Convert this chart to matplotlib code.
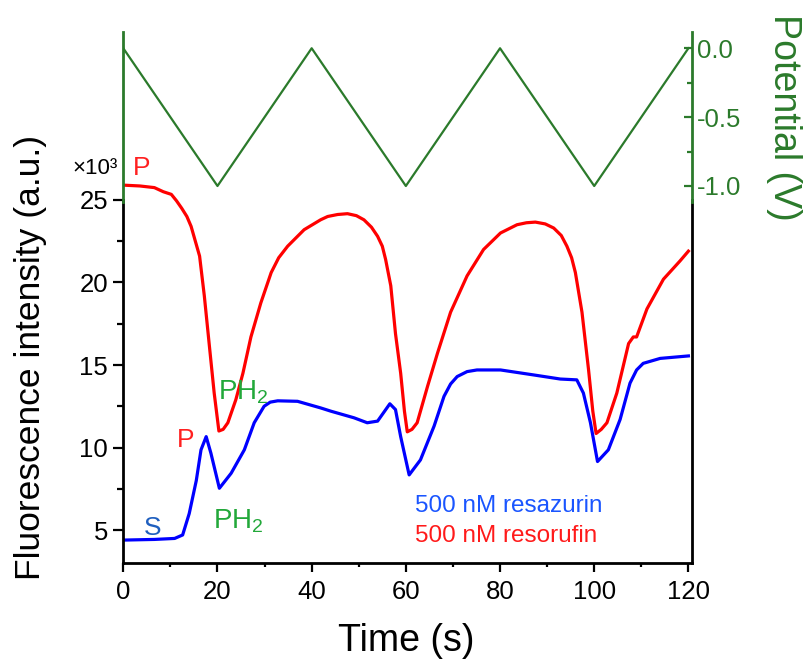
import numpy as np
import matplotlib
matplotlib.use('Agg')
import matplotlib.pyplot as plt
from matplotlib.ticker import MultipleLocator

plt.rcParams['font.family'] = ['Liberation Sans', 'DejaVu Sans']
plt.rcParams['mathtext.default'] = 'regular'

# potential sweep (V)
pot_t = [0, 20, 40, 60, 80, 100, 120]
pot_v = [0.0, -1.0, 0.0, -1.0, 0.0, -1.0, 0.0]

# 500 nM resorufin, fluorescence x10^3
res_t = [0.0, 3.5, 6.6, 8.5, 10.2, 11.3, 12.4, 13.5, 14.4, 15.2, 16.2, 17.2, 18.3, 19.3, 20.3,
         21.2, 22.2, 23.9, 25.4, 27.1, 29.2, 31.4, 33.0, 34.9, 38.4, 41.9, 43.4,
         45.5, 47.6, 49.5, 51.1, 52.7, 54.0, 55.0, 55.7, 56.8, 57.8, 58.9, 59.7, 60.3,
         61.3, 62.4, 64.6, 66.7, 69.5, 73.0, 76.5, 80.1, 83.6, 85.6, 87.5, 89.6, 91.4, 93.0,
         94.2, 95.2, 96.0, 97.4, 98.8, 99.7, 100.4, 101.5, 102.7, 104.8, 107.3, 108.3, 109.0,
         111.2, 114.7, 118.2, 120.0]
res_f = [25.9, 25.85, 25.75, 25.5, 25.34, 24.95, 24.5, 24.0, 23.4, 22.6, 21.6, 19.2, 16.1, 13.3, 11.0,
         11.1, 11.5, 12.9, 14.5, 16.7, 18.76, 20.6, 21.5, 22.2, 23.2, 23.8, 24.0,
         24.12, 24.17, 24.05, 23.8, 23.35, 22.8, 22.2, 21.4, 19.8, 16.9, 14.5, 12.2, 10.95,
         11.1, 11.5, 13.7, 15.7, 18.2, 20.4, 22.0, 23.0, 23.5, 23.62, 23.66, 23.55, 23.3, 22.85,
         22.2, 21.5, 20.6, 18.2, 14.7, 12.2, 10.85, 11.1, 11.5, 13.3, 16.3, 16.7, 16.7,
         18.4, 20.2, 21.3, 21.9]

# 500 nM resazurin
saz_t = [0.0, 6.6, 10.9, 12.6, 14.0, 15.5, 16.5, 17.6, 18.6, 20.4,
         22.9, 25.7, 27.8, 29.9, 31.2, 32.8, 37.0, 41.9, 44.1, 49.0, 51.8,
         54.0, 56.6, 57.8, 58.9, 60.7, 63.1, 66.0, 68.1, 69.5, 70.9, 73.0, 75.1,
         80.1, 87.1, 92.8, 96.3, 97.7, 99.2, 100.7, 103.0, 105.5, 107.6,
         109.0, 110.4, 114.0, 120.0]
saz_f = [4.39, 4.43, 4.49, 4.7, 6.0, 8.0, 9.86, 10.66, 9.66, 7.53,
         8.44, 9.86, 11.5, 12.5, 12.75, 12.83, 12.8, 12.4, 12.2, 11.8, 11.5,
         11.6, 12.65, 12.3, 10.66, 8.34, 9.25, 11.3, 13.1, 13.85, 14.3, 14.6, 14.7,
         14.7, 14.4, 14.15, 14.1, 13.3, 11.5, 9.15, 9.86, 11.7, 13.9,
         14.7, 15.1, 15.4, 15.55]

green = '#2b7a2b'
lgreen = '#22a83a'

fig = plt.figure(figsize=(8.09, 6.62), dpi=100)
W, H = 809, 662
left, right = 123.3, 691.7
ax = fig.add_axes([left/W, 1-562.7/H, (right-left)/W, (562.7-32)/H])
ax.plot(res_t, res_f, color='#ff0000', lw=2.3)
ax.plot(saz_t, saz_f, color='#0000ff', lw=2.3)
ax.set_xlim(0, 120.7)
ax.set_ylim(3.02, 35.18)
ax.spines['top'].set_visible(False)
ax.spines['left'].set_bounds(3.02, 25.0)
ax.spines['right'].set_bounds(3.02, 25.0)
for s in ['left', 'right', 'bottom']:
    ax.spines[s].set_linewidth(2.0)
ax.set_xticks([0, 20, 40, 60, 80, 100, 120])
ax.xaxis.set_minor_locator(MultipleLocator(10))
ax.set_yticks([5, 10, 15, 20, 25])
ax.set_yticks([7.5, 12.5, 17.5, 22.5], minor=True)
ax.tick_params(axis='x', which='major', direction='out', length=6.5, width=1.6,
               labelsize=18.5, pad=6)
ax.tick_params(axis='x', which='minor', direction='out', length=3, width=1.6)
ax.tick_params(axis='y', which='major', direction='out', length=7, width=1.6,
               labelsize=18.5, pad=4)
ax.tick_params(axis='y', which='minor', direction='out', length=4.5, width=1.6)

# annotations
ax.text(-1.1, 26.6, '×10³', fontsize=16, ha='right', va='baseline', clip_on=False)
ax.text(2.0, 26.5, 'P', color='#ff2020', fontsize=19, va='baseline')
ax.text(11.4, 10.03, 'P', color='#ff2020', fontsize=19, va='baseline')
ax.text(20.1, 12.88, r'$\mathregular{PH_2}$', color=lgreen, fontsize=20, va='baseline')
ax.text(19.1, 5.12, r'$\mathregular{PH_2}$', color=lgreen, fontsize=20, va='baseline')
ax.text(4.3, 4.7, 'S', color='#1f5fbf', fontsize=19, va='baseline')
ax.text(62.0, 6.09, '500 nM resazurin', color='#1a55ff', fontsize=17.5, va='baseline')
ax.text(62.0, 4.27, '500 nM resorufin', color='#ff1a1a', fontsize=17.5, va='baseline')

# potential panel
pax = fig.add_axes([left/W, 1-201.7/H, (right-left)/W, (201.7-32)/H])
pax.patch.set_alpha(0)
pax.plot(pot_t, pot_v, color=green, lw=1.6)
pax.set_xlim(0, 120.7)
pax.set_ylim(-1.114, 0.118)
pax.spines['top'].set_visible(False)
pax.spines['bottom'].set_visible(False)
for s in ['left', 'right']:
    pax.spines[s].set_color(green)
    pax.spines[s].set_linewidth(2.0)
pax.set_xticks([])
pax.yaxis.tick_right()
pax.set_yticks([0.0, -0.5, -1.0])
pax.set_yticklabels(['0.0', '-0.5', '-1.0'])
pax.set_yticks([-0.25, -0.75], minor=True)
pax.tick_params(axis='y', which='major', direction='in', length=6, width=1.6,
                colors=green, labelsize=18.5, pad=4)
pax.tick_params(axis='y', which='minor', direction='in', length=3.5, width=1.6,
                colors=green)

fig.text(406/W, 1-641/H, 'Time (s)', fontsize=27, ha='center', va='center')
fig.text(31/W, 1-357/H, 'Fluorescence intensity (a.u.)', fontsize=25.5,
         rotation=90, ha='center', va='center')
fig.text(784/W, 1-117/H, 'Potential (V)', fontsize=27, color=green,
         rotation=270, ha='center', va='center')

fig.savefig('out.png', dpi=100)
